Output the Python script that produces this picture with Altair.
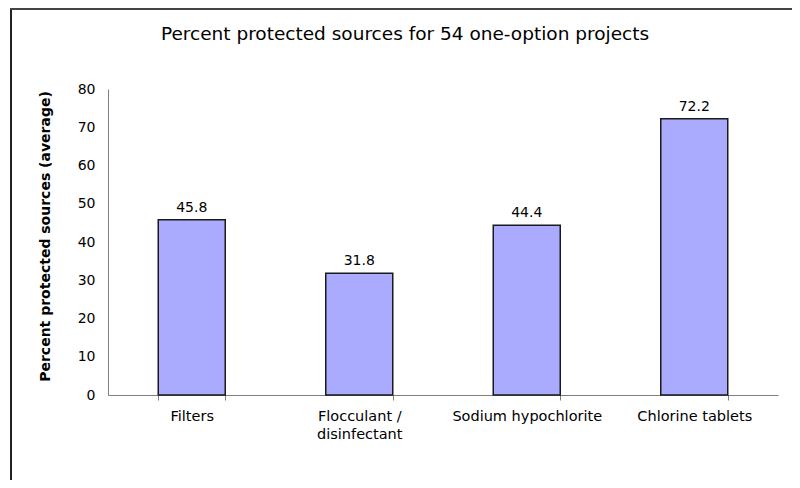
import altair as alt
import pandas as pd

categories = ["Filters", "Flocculant / disinfectant", "Sodium hypochlorite", "Chlorine tablets"]
values = [45.8, 31.8, 44.4, 72.2]
y_ticks = [0, 10, 20, 30, 40, 50, 60, 70, 80]

df = pd.DataFrame({"cat": categories, "val": values})
df["lbl"] = df["val"].map(lambda v: f"{v:.1f}")

FONT = "DejaVu Sans"
W, H = 670, 306

x_enc = alt.X(
    "cat:N",
    sort=categories,
    scale=alt.Scale(paddingInner=0.6, paddingOuter=0.3),
    axis=alt.Axis(
        title=None,
        labelAngle=0,
        labelFont=FONT,
        labelFontSize=14.5,
        labelColor="black",
        labelPadding=9,
        labelLineHeight=18,
        labelExpr="datum.value == 'Flocculant / disinfectant' ? ['Flocculant /', 'disinfectant'] : datum.label",
        tickBand="extent",
        tickSize=5,
        tickColor="#808080",
        domainColor="#808080",
        labelLimit=300,
    ),
)
y_enc = alt.Y(
    "val:Q",
    scale=alt.Scale(domain=[0, 80], nice=False),
    axis=alt.Axis(
        values=y_ticks,
        title="Percent protected sources (average)",
        titleFont=FONT,
        titleFontSize=14,
        titleFontWeight="bold",
        titleColor="black",
        titlePadding=25,
        titleY=147,
        labelFont=FONT,
        labelFontSize=14,
        labelColor="black",
        labelPadding=13,
        labelOverlap=False,
        ticks=False,
        grid=False,
        domainColor="#808080",
    ),
)

bars = alt.Chart(df).mark_bar(
    fill="#AAAAFF", stroke="#1a1a1a", strokeWidth=1.5
).encode(x=x_enc, y=y_enc)

texts = alt.Chart(df).mark_text(
    baseline="bottom", dy=-5, font=FONT, fontSize=14, color="black"
).encode(x=x_enc, y=y_enc, text="lbl:N")

frame_left = alt.Chart(df).mark_rule(color="#222222", strokeWidth=2).encode(
    x=alt.value(-97), y=alt.value(-80), y2=alt.value(H + 90)
)
frame_top = alt.Chart(df).mark_rule(color="#444444", strokeWidth=2).encode(
    x=alt.value(-98), x2=alt.value(W + 20), y=alt.value(-80)
)

chart = (
    alt.layer(bars, texts, frame_left, frame_top)
    .properties(
        width=W,
        height=H,
        autosize=alt.AutoSizeParams(type="none"),
        padding={"left": 100, "top": 81, "right": 14, "bottom": 85},
        title=alt.TitleParams(
            "Percent protected sources for 54 one-option projects",
            font=FONT,
            fontSize=18.5,
            fontWeight="normal",
            color="black",
            anchor="middle",
            dx=-38,
            offset=-35,
        ),
    )
    .configure_view(stroke=None)
)

chart.save("out.html", embed_options={"renderer": "svg", "actions": False})
